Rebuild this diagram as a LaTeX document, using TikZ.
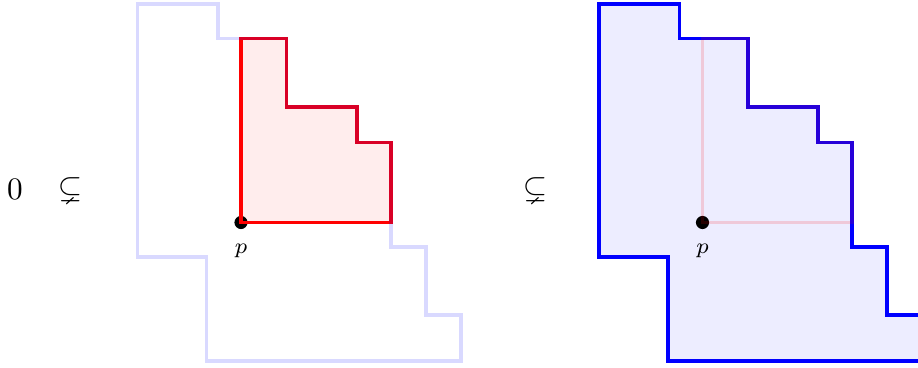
\documentclass[tikz,border=0pt]{standalone}
\usepackage{amssymb}
\usetikzlibrary{positioning}
\definecolor{hookred}{RGB}{255,0,0}
\definecolor{setblue}{RGB}{0,0,255}
% the hook at p and the whole set it sits in
\newcommand{\hookcells}{(241,38.5) -- (286.7,38.5) -- (286.7,107) -- (356.7,107)
  -- (356.7,142.5) -- (390.7,142.5) -- (390.7,222.5) -- (241,222.5) -- cycle}
\newcommand{\setcells}{(137.5,4) -- (218,4) -- (218,38.5) -- (286.7,38.5) -- (286.7,107)
  -- (356.7,107) -- (356.7,142.5) -- (390.7,142.5) -- (390.7,247) -- (425.7,247)
  -- (425.7,315) -- (460.7,315) -- (460.7,361) -- (206.7,361) -- (206.7,257)
  -- (137.5,257) -- cycle}
\tikzset{
  rim/.style={draw=#1,line width=1.15pt,line join=miter},
  rim/.default=setblue,
  faint/.style={draw opacity=0.15},
  dot/.style={circle,fill=black,inner sep=0pt,minimum size=4.2pt},
  lbl/.style={font=\scriptsize,inner sep=1pt},
}
\begin{document}
\begin{tikzpicture}[x=0.32pt,y=-0.32pt]
  \useasboundingbox (0,0) rectangle (918,368);
  \clip (0,0) rectangle (918,368);
  \node (zero) at (15,189) {$0$};
  \node (sub1) at (70,190) {$\subsetneq$};
  \node (sub2) at (535,190) {$\subsetneq$};
  % left: the hook alone
  \fill[hookred!7] \hookcells;
  \node[dot] (p1) at (241,222.5) {};
  \node[lbl,below=3.5pt of p1] {$p$};
  \draw[rim=hookred] \hookcells;
  \draw[rim,faint] \setcells;
  % right: the whole set
  \begin{scope}[shift={(461.5,0)}]
    \fill[setblue!7] \setcells;
    \draw[rim] \setcells;
    \node[dot] (p2) at (241,222.5) {};
    \node[lbl,below=3.5pt of p2] {$p$};
    \draw[rim=hookred,faint] \hookcells;
  \end{scope}
\end{tikzpicture}
\end{document}
